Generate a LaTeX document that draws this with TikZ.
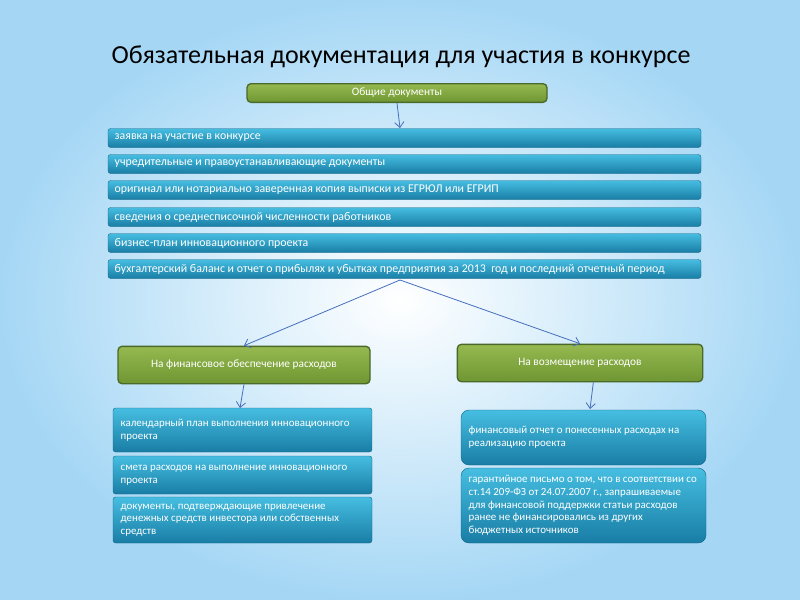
\documentclass[tikz,border=0pt]{standalone}
\usepackage{fontspec}
\usetikzlibrary{arrows.meta}
\setmainfont{Carlito}
\begin{document}
\begin{tikzpicture}[x=0.75pt,y=-0.75pt,
  bar/.style={rounded corners=2pt,top color=barT,bottom color=barB,draw=barB!80!black,line width=0.3pt},
  btxt/.style={text=white,font=\fontsize{8.2}{9.5}\selectfont,anchor=west,align=left},
  gbox/.style={rounded corners=3pt,top color=grT,bottom color=grB,draw=grD,line width=1pt,text=white,font=\fontsize{8.5}{10}\selectfont},
  conn/.style={draw=lineC,line width=0.6pt},
  arr/.style={conn,-{Straight Barb[length=4pt,width=7pt]}}]
\definecolor{barT}{RGB}{70,190,225}
\definecolor{barB}{RGB}{25,125,165}
\definecolor{grT}{RGB}{150,185,80}
\definecolor{grB}{RGB}{110,150,50}
\definecolor{grD}{RGB}{75,105,40}
\definecolor{lineC}{RGB}{70,110,190}
\definecolor{bgO}{RGB}{165,215,245}
\useasboundingbox (0,0) rectangle (800,600);
\shade[inner color=white,outer color=bgO] (0,0) rectangle (800,600);
\node (title) at (401,57) {\fontsize{19.5}{22}\selectfont Обязательная документация для участия в конкурсе};
\node[gbox,minimum width=225pt,minimum height=14pt] (gen) at (397,93) {Общие документы};
\foreach \y/\t [count=\i] in {138/заявка на участие в конкурсе,164/учредительные и правоустанавливающие документы,190/оригинал или нотариально заверенная копия выписки из ЕГРЮЛ или ЕГРИП,217/сведения о среднесписочной численности работников,243/бизнес-план инновационного проекта,269/{бухгалтерский баланс и отчет о прибылях и убытках предприятия за 2013 \ год и последний отчетный период}}{
  \draw[bar] (108,\y-9.5) rectangle (701,\y+9.5);
  \node[btxt,font=\fontsize{8.9}{10}\selectfont] (b\i) at (110,\y) {\t};
}
\coordinate (top1) at (400,128);
\coordinate (bot6) at (400,280);
\draw[arr] (gen.south) -- (top1);
\node[gbox,minimum width=189pt,minimum height=28pt] (fin) at (244,365) {На финансовое обеспечение расходов};
\node[gbox,minimum width=184pt,minimum height=28pt] (voz) at (580,363) {На возмещение расходов};
\draw[arr] (bot6) -- (fin.north);
\draw[arr] (bot6) -- (voz.north);
\coordinate (l1) at (240,408);
\coordinate (r1) at (590,409);
\draw[arr] (fin.south) -- (l1);
\draw[arr] ([xshift=10]voz.south) -- (r1);
\foreach \a/\b/\t [count=\i] in {408/452/{календарный план выполнения инновационного\\проекта},456/494/{смета расходов на выполнение инновационного\\проекта},497/543/{документы, подтверждающие привлечение\\денежных средств инвестора или собственных\\средств}}{
  \draw[bar] (113,\a) rectangle (372,\b);
  \node[btxt] (L\i) at (116,{(\a+\b)/2}) {\t};
}
\foreach \a/\b/\t [count=\i] in {410/465/{финансовый отчет о понесенных расходах на\\реализацию проекта},468/543/{гарантийное письмо о том, что в соответствии со\\ст.14 209-ФЗ от 24.07.2007 г., запрашиваемые\\для финансовой поддержки статьи расходов\\ранее не финансировались из других\\бюджетных источников}}{
  \draw[bar,rounded corners=6pt] (461,\a) rectangle (706,\b);
  \node[btxt] (R\i) at (464,{(\a+\b)/2}) {\t};
}
\end{tikzpicture}
\end{document}
